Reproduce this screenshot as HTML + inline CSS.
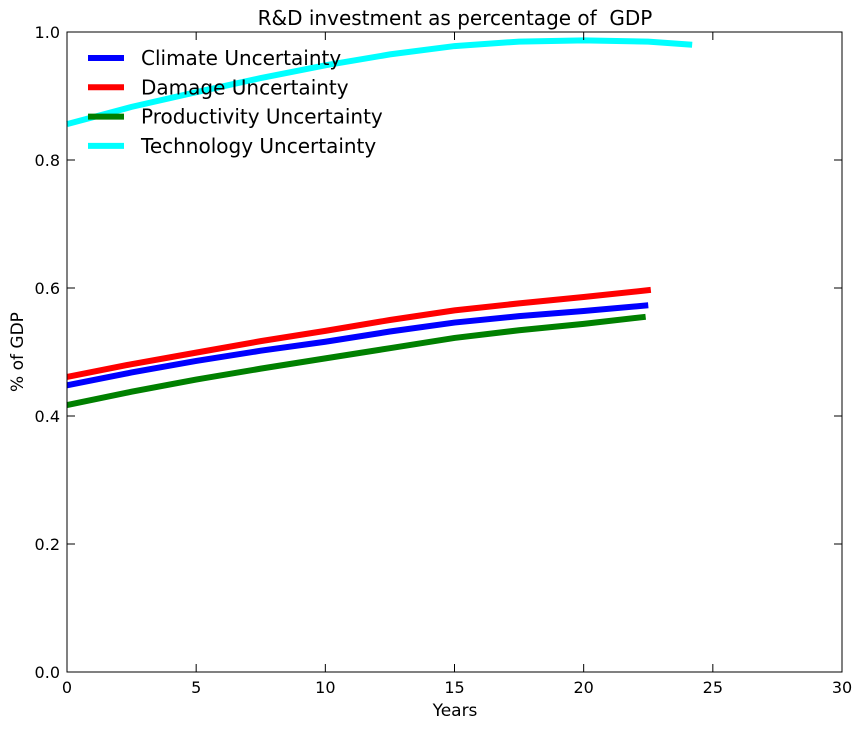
<!DOCTYPE html>
<html><head><meta charset="utf-8"><style>
body{margin:0;background:#fff;font-family:"DejaVu Sans",sans-serif}
svg text{font-family:"DejaVu Sans",sans-serif;white-space:pre}
</style></head><body>
<svg id="chart" width="862" height="730" xmlns="http://www.w3.org/2000/svg">
<rect width="862" height="730" fill="#fff"/>
<g id="marks"></g>
<rect x="67" y="32" width="775" height="640" fill="none" stroke="#000" stroke-width="1"/>
<g id="ticks"></g>
<text x="455" y="25" font-size="20" text-anchor="middle" xml:space="preserve">R&amp;D investment as percentage of  GDP</text>
<text x="455" y="716" font-size="17" text-anchor="middle">Years</text>
<text transform="translate(23,352) rotate(-90)" font-size="17" text-anchor="middle">% of GDP</text>
<g id="legend"></g>
</svg>
<script>
const years=[0,2.5,5,7.5,10,12.5,15,17.5,20,22.5];
const climateX=[0,2.5,5,7.5,10,12.5,15,17.5,20,22.5];
const climate=[0.448,0.468,0.486,0.502,0.516,0.532,0.546,0.556,0.564,0.573];
const damageX=[0,2.5,5,7.5,10,12.5,15,17.5,20,22.6];
const damage=[0.461,0.481,0.499,0.517,0.533,0.550,0.565,0.576,0.586,0.597];
const productivityX=[0,2.5,5,7.5,10,12.5,15,17.5,20,22.4];
const productivity=[0.417,0.438,0.457,0.474,0.490,0.506,0.522,0.534,0.544,0.555];
const technologyX=[0,2.5,5,7.5,10,12.5,15,17.5,20,22.5,24.2];
const technology=[0.856,0.883,0.906,0.928,0.948,0.965,0.978,0.985,0.987,0.985,0.980];
const seriesNames=["Climate Uncertainty","Damage Uncertainty","Productivity Uncertainty","Technology Uncertainty"];
const xTicks=[0,5,10,15,20,25,30];
const yTicks=[0.0,0.2,0.4,0.6,0.8,1.0];
const NS="http://www.w3.org/2000/svg";
const X=v=>67+v/30*775, Y=v=>672-v*640;
const colors=["#0000ff","#ff0000","#008000","#00ffff"];
const allX=[climateX,damageX,productivityX,technologyX], allY=[climate,damage,productivity,technology];
const marks=document.getElementById('marks');
allY.forEach((ys,i)=>{
 const p=document.createElementNS(NS,'polyline');
 p.setAttribute('points',ys.map((v,j)=>X(allX[i][j])+','+Y(v)).join(' '));
 p.setAttribute('fill','none');p.setAttribute('stroke',colors[i]);p.setAttribute('stroke-width','6');
 
 
 marks.appendChild(p);
});
const tg=document.getElementById('ticks');
function add(tag,attrs,txt){const e=document.createElementNS(NS,tag);for(const k in attrs)e.setAttribute(k,attrs[k]);if(txt!==undefined)e.textContent=txt;tg.appendChild(e);return e;}
xTicks.forEach(t=>{
 add('line',{x1:X(t),x2:X(t),y1:672,y2:664,stroke:'#000'});
 add('line',{x1:X(t),x2:X(t),y1:32,y2:40,stroke:'#000'});
 const e=add('text',{x:X(t),y:693,'font-size':16,'text-anchor':'middle'},t);
 
 
});
yTicks.forEach(t=>{
 add('line',{x1:67,x2:75,y1:Y(t),y2:Y(t),stroke:'#000'});
 add('line',{x1:834,x2:842,y1:Y(t),y2:Y(t),stroke:'#000'});
 const e=add('text',{x:60,y:Y(t)+6,'font-size':16,'text-anchor':'end'},t.toFixed(1));
 
 
});
const lg=document.getElementById('legend');
seriesNames.forEach((n,i)=>{
 const y=58+i*29.3;
 const l=document.createElementNS(NS,'line');
 l.setAttribute('x1',88);l.setAttribute('x2',124);l.setAttribute('y1',y);l.setAttribute('y2',y);
 l.setAttribute('stroke',colors[i]);l.setAttribute('stroke-width','6');
 
 
 lg.appendChild(l);
 const t=document.createElementNS(NS,'text');
 t.setAttribute('x',141);t.setAttribute('y',y+7);t.setAttribute('font-size','20');
 t.textContent=n;
 
 
 lg.appendChild(t);
});
</script>
</body></html>
